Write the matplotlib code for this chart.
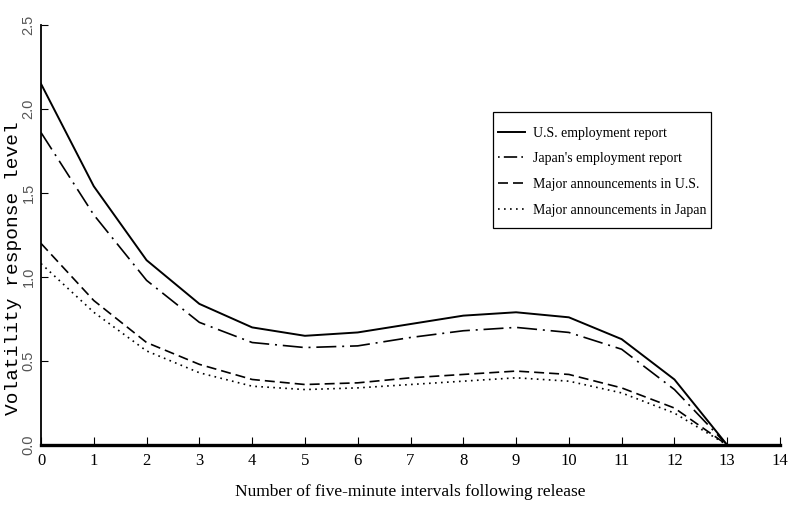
import matplotlib.pyplot as plt
from matplotlib.patches import Rectangle
from matplotlib.transforms import ScaledTranslation

# intervals after the release (five minutes each)
intervals = [0, 1, 2, 3, 4, 5, 6, 7, 8, 9, 10, 11, 12, 13]

us_employment = [2.15, 1.54, 1.10, 0.84, 0.70, 0.65, 0.67, 0.72, 0.77, 0.79, 0.76, 0.63, 0.39, 0.0]
jp_employment = [1.86, 1.37, 0.98, 0.73, 0.61, 0.58, 0.59, 0.64, 0.68, 0.70, 0.67, 0.57, 0.33, 0.0]
us_major = [1.20, 0.86, 0.61, 0.48, 0.39, 0.36, 0.37, 0.40, 0.42, 0.44, 0.42, 0.34, 0.22, 0.0]
jp_major = [1.08, 0.79, 0.56, 0.43, 0.35, 0.33, 0.34, 0.36, 0.38, 0.40, 0.38, 0.31, 0.19, 0.0]

labels = ['U.S. employment report', "Japan's employment report",
          'Major announcements in U.S.', 'Major announcements in Japan']

xticks = list(range(15))
yticks = [0.0, 0.5, 1.0, 1.5, 2.0, 2.5]

serif = 'Liberation Serif'

fig = plt.figure(figsize=(7.9, 5.08), dpi=100)
ax = fig.add_axes([41 / 790, 63 / 508, 739 / 790, 420 / 508])

lw = 1.2
ax.plot(intervals, us_employment, color='black', lw=1.4, linestyle='-', label=labels[0])
ax.plot(intervals, jp_employment, color='black', lw=lw, linestyle=(0, (12, 3.5, 1.2, 3.5)), label=labels[1])
ax.plot(intervals, us_major, color='black', lw=lw, linestyle=(0, (6, 3)), label=labels[2])
ax.plot(intervals, jp_major, color='black', lw=lw, linestyle=(0, (1, 2.6)), label=labels[3])

ax.set_xlim(0, 14)
ax.set_ylim(0, 2.5)
ax.spines['top'].set_visible(False)
ax.spines['right'].set_visible(False)
ax.spines['bottom'].set_linewidth(2.4)
ax.spines['left'].set_linewidth(1.3)

ax.set_xticks(xticks)
ax.set_xticklabels([str(t) for t in xticks], fontfamily=serif, fontsize=12)
ax.set_yticks(yticks)
ax.set_yticklabels(['%.1f' % t for t in yticks], rotation=90, va='center',
                   fontfamily='Liberation Sans', fontsize=10.5, color='#555555')
# the 0.0 label sits a little above the axis line in the original
lab0 = ax.get_yticklabels()[0]
lab0.set_transform(lab0.get_transform() + ScaledTranslation(0, 0.2, fig.dpi_scale_trans))
ax.tick_params(axis='x', direction='in', length=6, width=0.8, pad=6)
ax.tick_params(axis='y', direction='in', length=5, width=0.8, pad=4)

ax.set_xlabel('Number of five-minute intervals following release',
              fontfamily=serif, fontsize=12.5)
ax.xaxis.set_label_coords(0.5, -0.092)
ax.set_ylabel('Volatility response level', fontfamily='Liberation Mono', fontsize=14)
ax.yaxis.set_label_coords(-0.026, 0.42)

leg = ax.legend(loc='upper left', bbox_to_anchor=(486 / 790, 1 - 114 / 508),
                bbox_transform=fig.transFigure, frameon=False, handlelength=1.9,
                handletextpad=0.55, labelspacing=0.92,
                prop={'family': serif, 'size': 10})
# short dot-dash-dot handle like the printed key
leg.get_lines()[1].set_linestyle((0, (1, 2.5, 8, 2.5, 1, 30)))
fig.patches.append(Rectangle((493 / 790, 1 - 228 / 508), 218 / 790, 116 / 508,
                             transform=fig.transFigure, fill=False,
                             edgecolor='black', lw=0.9))

fig.savefig('out.png', dpi=100)
